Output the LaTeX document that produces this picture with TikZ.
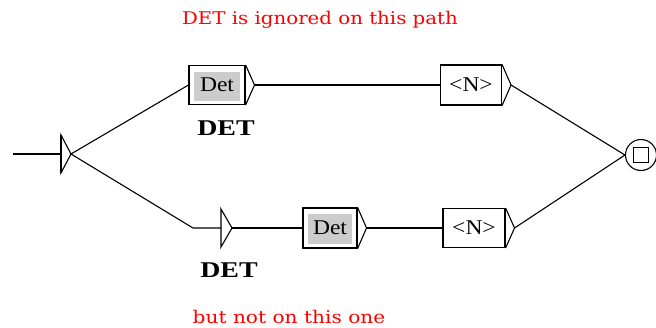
\documentclass[tikz,border=0pt]{standalone}
\usepackage{fontspec}
\setmainfont{Liberation Serif}
\newfontfamily\notefont{DejaVu Serif}
\usepackage{graphicx}
\begin{document}
\begin{tikzpicture}[x=1pt, y=-1pt, line width=1.1pt, every node/.style={font=\fontsize{21}{23}\selectfont}]
  \tikzstyle{box}=[draw,fill=white,minimum width=56pt,minimum height=39pt,inner sep=0pt]
  \tikzstyle{grey}=[box,path picture={\fill[gray!40] ([shift={(5pt,4pt)}]path picture bounding box.south west) rectangle ([shift={(-5pt,-6pt)}]path picture bounding box.north east);}]
  \tikzstyle{outlabel}=[font=\fontsize{22.5}{24}\selectfont\bfseries]
  \tikzstyle{note}=[text=red,font=\fontsize{17.5}{19}\notefont]
  \useasboundingbox (0,0) rectangle (656,327);
  % initial state
  \coordinate (start) at (13,154);
  \coordinate (init) at (71,154);
  \draw (start) -- (61,154);
  \draw (61,135) -- (init) -- (61,173) -- cycle;
  \draw[line width=1.8pt] (61,135) -- (61,173);
  % boxes
  \node[grey] (det1) at (217,85) {\scalebox{1.12}[1]{Det}};
  \node[box,minimum width=61pt,minimum height=40pt] (n1) at (471,85) {\scalebox{1.12}[1]{<N>}};
  \node[grey,minimum width=54pt,minimum height=40pt] (det2) at (330,228) {\scalebox{1.12}[1]{Det}};
  \node[box,minimum width=62pt] (n2) at (474,228) {\scalebox{1.12}[1]{<N>}};
  \foreach \b in {det1,n1,det2,n2}
    \draw (\b.north east) -- ([xshift=9pt]\b.east) coordinate (\b t) -- (\b.south east);
  % empty box of the lower path
  \coordinate (bend) at (193,228);
  \coordinate (epsbar) at (221,228);
  \coordinate (eps) at (232,228);
  \draw (221,209) -- (eps) -- (221,247) -- cycle;
  % outputs
  \node[outlabel] (out1) at (226,128) {\scalebox{1.24}[1]{DET}};
  \node[outlabel] (out2) at (229,270) {\scalebox{1.24}[1]{DET}};
  % final state
  \node[circle,draw,fill=white,minimum size=31pt,inner sep=0pt] (fin) at (641,155) {};
  \node[draw,minimum size=15pt,inner sep=0pt] (finsq) at (fin) {};
  % transitions
  \draw (init) -- (det1.west);
  \draw (det1t) -- (n1.west);
  \draw (n1t) -- (fin.west);
  \draw (init) -- (bend) -- (epsbar);
  \draw (eps) -- (det2.west);
  \draw (det2t) -- (n2.west);
  \draw (n2t) -- (fin.west);
  % comments
  \node[note] (c1) at (320,20) {\scalebox{1.13}[1]{DET is ignored on this path}};
  \node[note] (c2) at (289,317) {\scalebox{1.15}[1]{but not on this one}};
\end{tikzpicture}
\end{document}
